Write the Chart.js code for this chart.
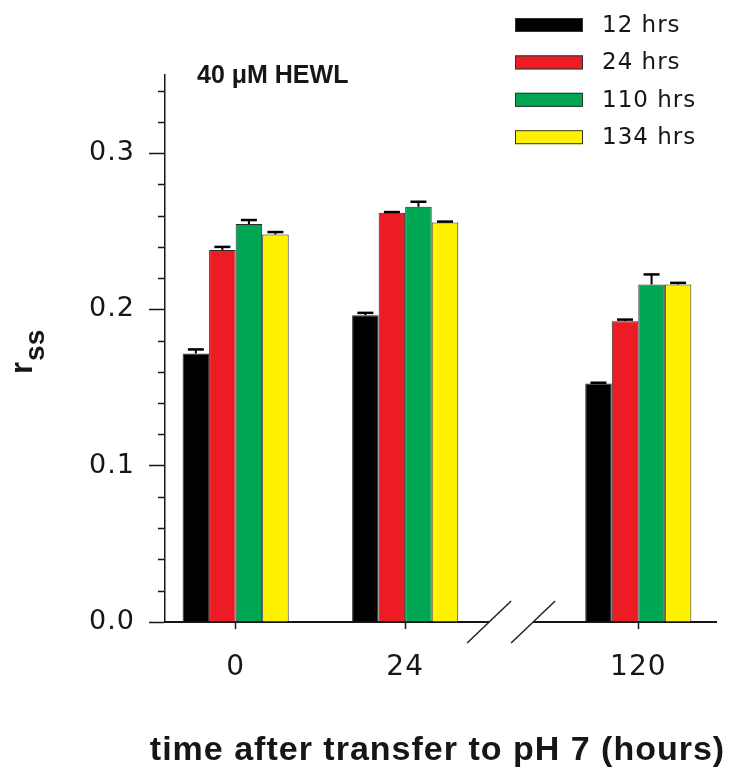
<!DOCTYPE html>
<html>
<head>
<meta charset="utf-8">
<script src="https://cdn.jsdelivr.net/npm/chart.js@4.4.1/dist/chart.umd.min.js"></script>
<style>
  html,body{margin:0;padding:0;background:#fff}
  #ch{display:block}
</style>
</head>
<body>
<canvas id="ch" width="729" height="773"></canvas>
<script>
/* ---------- data ---------- */
const hours=[0,24,120];
const hourLabels=['0','24','120'];
const seriesNames=['12 hrs','24 hrs','110 hrs','134 hrs'];
const r12 =[0.1718,0.1963,0.1526];
const r24 =[0.2380,0.2618,0.1925];
const r110=[0.2546,0.2657,0.2160];
const r134=[0.2480,0.2557,0.2160];
const e12 =[0.0026,0.0015,0.0005];
const e24 =[0.0020,0.0005,0.0010];
const e110=[0.0026,0.0032,0.0064];
const e134=[0.0015,0.0005,0.0010];
const yMajor=[0,0.1,0.2,0.3];

/* ---------- axis break: hours 39..102 are cut out ---------- */
const breakAt=39, breakResume=102;
const brk=h=>h>breakAt?h-(breakResume-breakAt):h;

const FONT='"Liberation Sans", Arial, sans-serif';
const WIDE='"DejaVu Sans", sans-serif';
const INK='#161616';
const fills=['#000000','#ed1c24','#00a651','#fff200'];
const vals=[r12,r24,r110,r134], errs=[e12,e24,e110,e134];
const isMajor=v=>yMajor.some(m=>Math.abs(m-v)<1e-6);

const datasets=seriesNames.map((name,k)=>({
  label:name,
  data:hours.map((h,i)=>({x:brk(h),y:vals[k][i]})),
  err:errs[k],
  backgroundColor:fills[k],
  borderColor:'#2b2b2b',
  borderWidth:1,
  barPercentage:1,
  categoryPercentage:0.626
}));

/* ---------- extras: error bars, minor ticks, break, titles, legend ---------- */
const extras={
  id:'extras',
  beforeDraw(chart){chart.ctx.letterSpacing='1px';},
  afterDatasetsDraw(chart){
    const {ctx,scales:{y}}=chart;
    ctx.save();
    ctx.strokeStyle='#000';
    chart.data.datasets.forEach((ds,k)=>{
      chart.getDatasetMeta(k).data.forEach((bar,i)=>{
        const top=y.getPixelForValue(ds.data[i].y+ds.err[i]);
        ctx.lineWidth=2;
        ctx.beginPath();ctx.moveTo(bar.x,bar.y);ctx.lineTo(bar.x,top);ctx.stroke();
        ctx.lineWidth=2.5;
        ctx.beginPath();ctx.moveTo(bar.x-8,top);ctx.lineTo(bar.x+8,top);ctx.stroke();
      });
    });
    ctx.restore();
  },
  afterDraw(chart){
    const {ctx,chartArea:a,scales:{x,y}}=chart;
    ctx.save();
    // minor ticks
    ctx.strokeStyle=INK;ctx.lineWidth=1.5;
    y.ticks.forEach(t=>{
      if(isMajor(t.value))return;
      const py=Math.round(y.getPixelForValue(t.value))+0.5;
      ctx.beginPath();ctx.moveTo(a.left-7,py);ctx.lineTo(a.left,py);ctx.stroke();
    });
    // axis break
    const gx=x.getPixelForValue(breakAt), y0=a.bottom;
    ctx.fillStyle='#fff';
    ctx.fillRect(gx-22,y0-3,44,6);
    ctx.strokeStyle='#222';ctx.lineWidth=1.5;
    [gx-22,gx+22].forEach(cx=>{
      ctx.beginPath();ctx.moveTo(cx-22,y0+21);ctx.lineTo(cx+22,y0-21);ctx.stroke();
    });
    // panel title
    ctx.fillStyle=INK;
    ctx.textBaseline='middle';ctx.textAlign='left';
    ctx.letterSpacing='0px';
    ctx.font='bold 25px '+FONT;
    ctx.fillText('40 \u03bcM HEWL',197,76);
    // x title
    ctx.letterSpacing='1px';
    ctx.textAlign='center';
    ctx.font='bold 34px '+FONT;
    ctx.fillText('time after transfer to pH 7 (hours)',(a.left+a.right)/2-3,751);
    // y title r_ss, rotated
    ctx.save();
    ctx.letterSpacing='0px';
    ctx.textAlign='left';
    ctx.translate(32,374);ctx.rotate(-Math.PI/2);
    ctx.textBaseline='alphabetic';
    ctx.font='bold 31px '+FONT;
    ctx.fillText('r',0,0);
    const rw=ctx.measureText('r').width;
    ctx.font='bold 28px '+FONT;
    ctx.fillText('ss',rw+1,12);
    ctx.restore();
    // legend
    ctx.letterSpacing='1px';
    ctx.textAlign='left';
    ctx.font='23px '+WIDE;
    chart.data.datasets.forEach((ds,k)=>{
      const cy=25+k*37.4;
      ctx.fillStyle=ds.backgroundColor;
      ctx.fillRect(515,cy-7,68,14);
      ctx.strokeStyle='#333';ctx.lineWidth=1;
      ctx.strokeRect(515.5,cy-6.5,67,13);
      ctx.fillStyle=INK;
      ctx.fillText(ds.label,602,cy+1);
    });
    ctx.restore();
  }
};

new Chart(document.getElementById('ch'),{
  type:'bar',
  data:{datasets},
  plugins:[extras],
  options:{
    responsive:false,
    animation:false,
    devicePixelRatio:1,
    layout:{padding:{top:75,right:13,left:0,bottom:0}},
    plugins:{legend:{display:false},tooltip:{enabled:false}},
    scales:{
      x:{
        type:'linear',min:-10,max:brk(131),offset:false,
        afterBuildTicks:s=>{s.ticks=hours.map(h=>({value:brk(h)}));},
        afterFit:s=>{s.height=151;},
        grid:{drawOnChartArea:false,offset:false,tickLength:7,tickWidth:1.5,tickColor:INK},
        border:{color:INK,width:2},
        ticks:{autoSkip:false,maxRotation:0,padding:22,color:INK,font:{family:WIDE,size:28},
          callback:(v,i)=>hourLabels[i]}
      },
      y:{
        min:0,max:0.35,
        afterFit:s=>{s.width=165;},
        grid:{drawOnChartArea:false,tickLength:16,tickWidth:1.5,
          tickColor:c=>isMajor(c.tick.value)?INK:'rgba(0,0,0,0)'},
        border:{color:INK,width:1.5},
        ticks:{stepSize:0.02,includeBounds:false,autoSkip:false,padding:14,color:INK,
          font:{family:WIDE,size:27},callback:v=>isMajor(v)?v.toFixed(1):''}
      }
    }
  }
});
</script>
</body>
</html>
